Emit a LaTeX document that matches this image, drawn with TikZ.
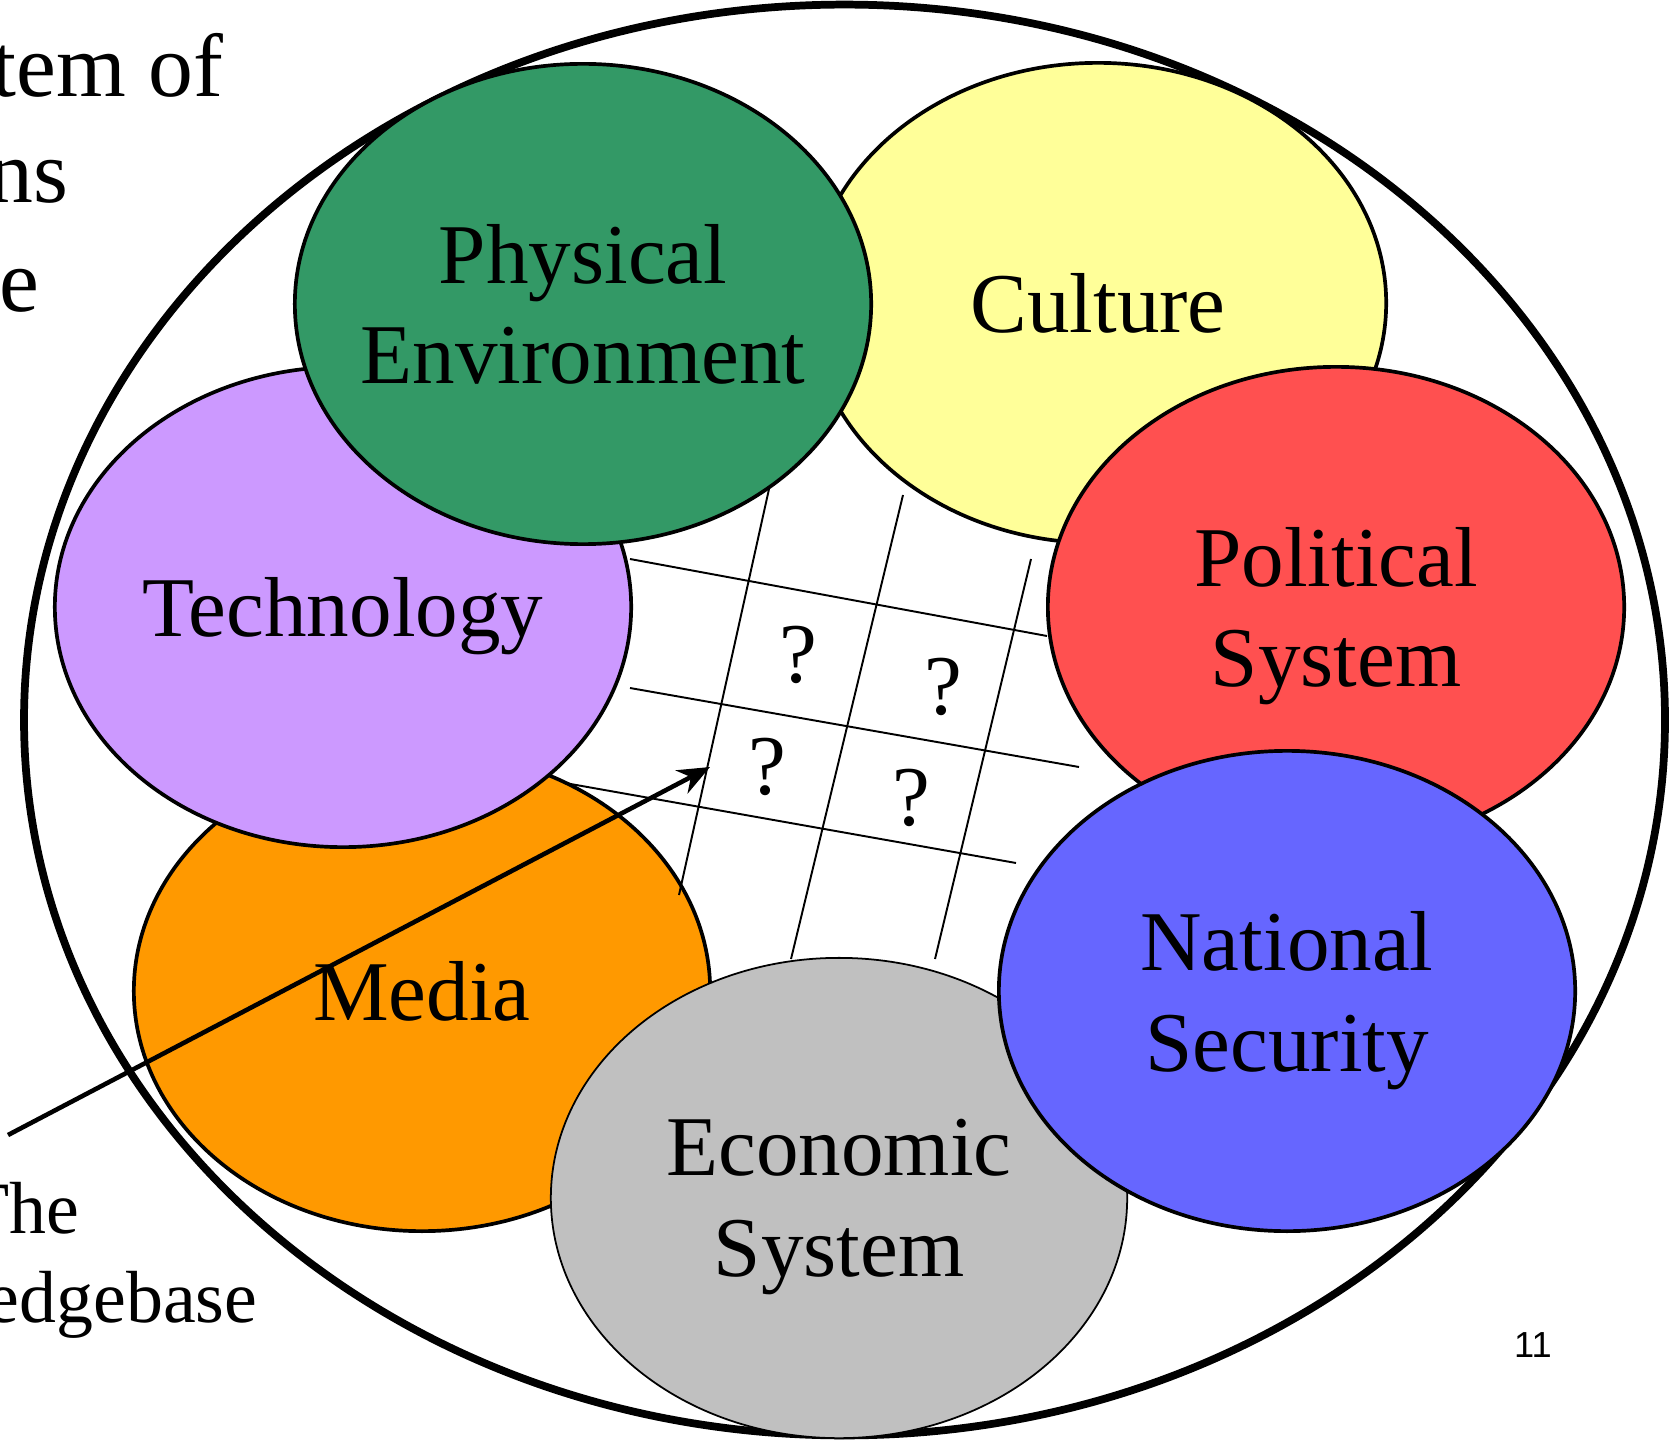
\documentclass[tikz,border=0pt]{standalone}
\usepackage{fontspec}
\setmainfont{Liberation Serif}
\newfontfamily\slidenum{Liberation Sans}
\usetikzlibrary{shapes.geometric,arrows.meta}

\definecolor{envgreen}{RGB}{51,153,102}
\definecolor{cultyellow}{RGB}{255,255,153}
\definecolor{techpurple}{RGB}{204,153,255}
\definecolor{polred}{RGB}{255,80,80}
\definecolor{mediaorange}{RGB}{255,153,0}
\definecolor{secblue}{RGB}{102,102,255}
\definecolor{econgray}{RGB}{192,192,192}

\begin{document}
\begin{tikzpicture}[x=0.01cm,y=-0.01cm,>={Stealth[length=0.32cm,width=0.26cm]},
  area/.style={ellipse, draw, line width=1.05pt, minimum width=5.76cm, minimum height=4.8cm, inner sep=0pt},
  lbl/.style={align=center, inner sep=0pt, text depth=0pt, font=\fontsize{24.2}{28.7}\selectfont},
  slide/.style={inner sep=0pt, anchor=base east},
  grid/.style={line width=0.55pt},
  qmark/.style={inner sep=0pt, font=\fontsize{24.2}{28}\selectfont}]
  \useasboundingbox (0,0) rectangle (1671,1440);

  \node[slide, font=\fontsize{25.5}{30}\selectfont] (sys1) at (224,97) {tem of};
  \node[slide, font=\fontsize{25.5}{30}\selectfont] (sys2) at (69,203) {ns};
  \node[slide, font=\fontsize{25.5}{30}\selectfont] (sys3) at (40,312) {e};
  \node[slide, font=\fontsize{21}{25}\selectfont] (kb1) at (80,1233) {The};
  \node[slide, font=\fontsize{21}{25}\selectfont] (kb2) at (258,1322) {edgebase};

  \draw[line width=2.2pt] (844.5,720) ellipse [x radius=8.2cm, y radius=7.15cm];

  \node[area, fill=cultyellow] (culture) at (1098,303) {};
  \node[area, fill=polred] (political) at (1336,607) {};
  \node[area, fill=mediaorange] (media) at (422,991) {};
  \node[area, fill=techpurple] (tech) at (343,607) {};
  \node[area, fill=envgreen] (env) at (583,304) {};
  \node[area, fill=econgray, line width=0.5pt] (econ) at (839,1198) {};
  \node[area, fill=secblue] (security) at (1287,991) {};

  \node[lbl] (culturelabel) at (culture) {Culture};
  \node[lbl] (politicallabel) at (political) {Political\\System};
  \node[lbl] (medialabel) at (media) {Media};
  \node[lbl] (techlabel) at (tech) {Technology};
  \node[lbl] (envlabel) at (env) {Physical\\Environment};
  \node[lbl] (econlabel) at (econ) {Economic\\System};
  \node[lbl] (securitylabel) at (security) {National\\Security};

  \draw[grid] (630,559) -- (1047,636);
  \draw[grid] (630,688) -- (1079,767);
  \draw[grid] (565,783) -- (1016,863);
  \draw[grid] (769,489) -- (679,895);
  \draw[grid] (903,495) -- (791,959);
  \draw[grid] (1031,559) -- (935,959);

  \node[qmark] (q11) at (798,655) {?};
  \node[qmark] (q12) at (943,687) {?};
  \node[qmark] (q21) at (767,767) {?};
  \node[qmark] (q22) at (911,798) {?};

  \coordinate (kbtail) at (8,1135);
  \coordinate (kbtip) at (710,767);
  \draw[->, line width=1.3pt] (kbtail) -- (kbtip);

  \node[anchor=base, font=\slidenum\fontsize{10.3}{12}\selectfont] (page) at (1533,1357) {11};
\end{tikzpicture}
\end{document}
